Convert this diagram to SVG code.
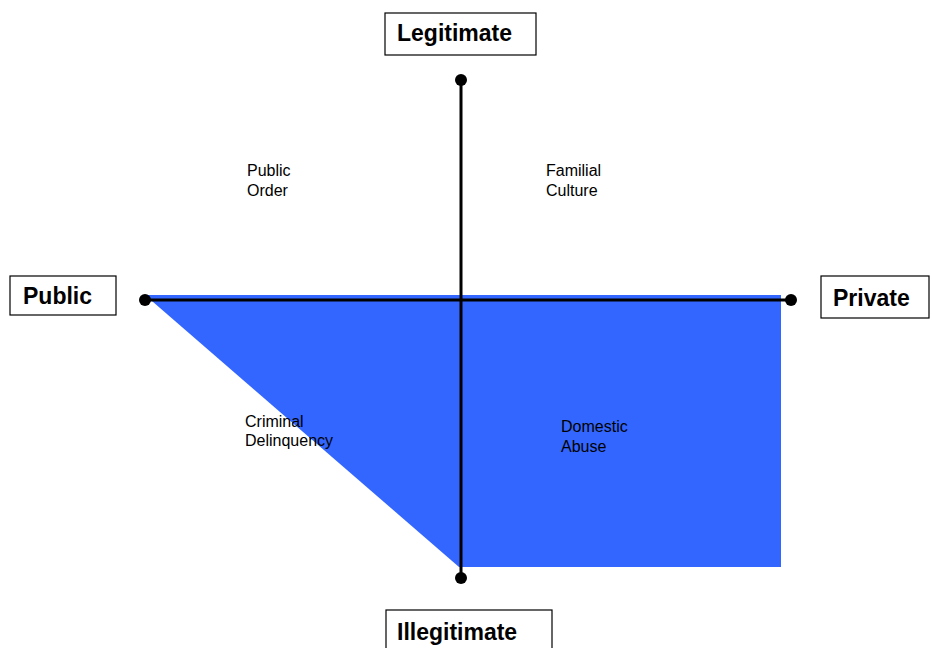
<svg xmlns="http://www.w3.org/2000/svg" width="932" height="648" viewBox="0 0 932 648">
  <style>
    .box { fill: #fff; stroke: #000; stroke-width: 1.2; }
    .title { font-family: "Liberation Sans", Arial, sans-serif; font-weight: bold; font-size: 23px; fill: #000; }
    .label { font-family: "Liberation Sans", Arial, sans-serif; font-size: 16px; fill: #000; }
    .axis { stroke: #000; stroke-width: 3; fill: none; }
    .dot { fill: #000; }
  </style>
  <rect width="932" height="648" fill="#fff"/>

  <!-- shaded region -->
  <polygon id="region" points="145,295 781,295 781,567 459,567" fill="#3366ff"/>

  <!-- axes -->
  <g id="connectors">
    <line class="axis" x1="461" y1="80" x2="461" y2="578"/>
    <line class="axis" x1="145" y1="300" x2="791" y2="300"/>
    <circle class="dot" cx="461" cy="80" r="6"/>
    <circle class="dot" cx="461" cy="578" r="6"/>
    <circle class="dot" cx="145" cy="300" r="6"/>
    <circle class="dot" cx="791" cy="300" r="6"/>
  </g>

  <g id="legitimate">
    <rect class="box" x="385" y="13" width="151" height="42"/>
    <text class="title" x="397" y="41">Legitimate</text>
  </g>
  <g id="public">
    <rect class="box" x="10" y="276" width="106" height="39"/>
    <text class="title" x="23" y="304">Public</text>
  </g>
  <g id="private">
    <rect class="box" x="821" y="276" width="108" height="42"/>
    <text class="title" x="833" y="306">Private</text>
  </g>
  <g id="illegitimate">
    <rect class="box" x="386" y="610" width="166" height="44"/>
    <text class="title" x="397" y="640">Illegitimate</text>
  </g>

  <g id="public-order">
    <text class="label" x="247" y="176">Public</text>
    <text class="label" x="247" y="196">Order</text>
  </g>
  <g id="familial-culture">
    <text class="label" x="546" y="176">Familial</text>
    <text class="label" x="546" y="196">Culture</text>
  </g>
  <g id="criminal-delinquency">
    <text class="label" x="245" y="427">Criminal</text>
    <text class="label" x="245" y="446">Delinquency</text>
  </g>
  <g id="domestic-abuse">
    <text class="label" x="561" y="432">Domestic</text>
    <text class="label" x="561" y="452">Abuse</text>
  </g>
</svg>
